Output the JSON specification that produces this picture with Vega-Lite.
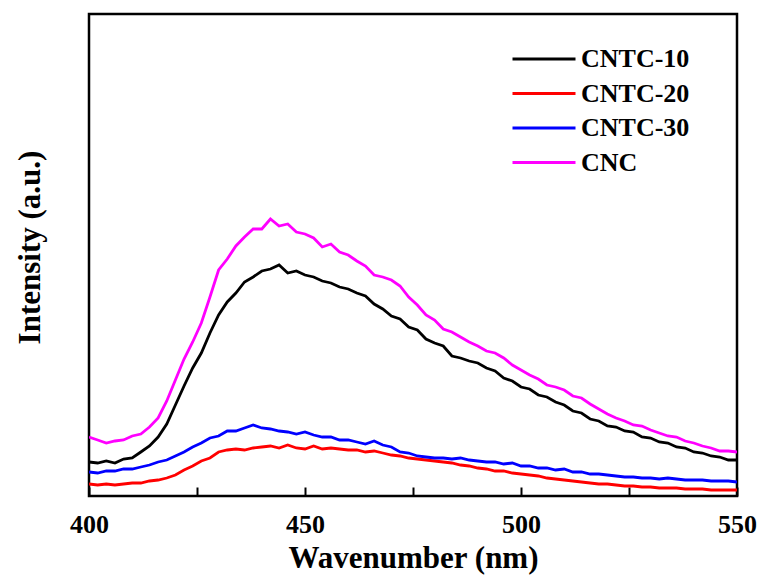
{
  "$schema": "https://vega.github.io/schema/vega-lite/v6.json",
  "width": 648,
  "height": 482,
  "autosize": {"type": "none"},
  "padding": {"left": 89, "top": 14, "right": 21, "bottom": 87},
  "background": "white",
  "config": {
    "view": {"stroke": "black", "strokeWidth": 2.5},
    "font": "Liberation Serif"
  },
  "datasets": {
    "spectra": [
      {"s":"CNTC-10","x":400,"y":34},{"s":"CNTC-10","x":402,"y":33},{"s":"CNTC-10","x":404,"y":35},{"s":"CNTC-10","x":406,"y":33},{"s":"CNTC-10","x":408,"y":37},{"s":"CNTC-10","x":410,"y":38},{"s":"CNTC-10","x":412,"y":44},{"s":"CNTC-10","x":414,"y":50},{"s":"CNTC-10","x":416,"y":59},{"s":"CNTC-10","x":418,"y":72},{"s":"CNTC-10","x":420,"y":91},{"s":"CNTC-10","x":422,"y":110},{"s":"CNTC-10","x":424,"y":128},{"s":"CNTC-10","x":426,"y":143},{"s":"CNTC-10","x":428,"y":163},{"s":"CNTC-10","x":430,"y":181},{"s":"CNTC-10","x":432,"y":194},{"s":"CNTC-10","x":434,"y":203},{"s":"CNTC-10","x":436,"y":214},{"s":"CNTC-10","x":438,"y":219},{"s":"CNTC-10","x":440,"y":225},{"s":"CNTC-10","x":442,"y":227},{"s":"CNTC-10","x":444,"y":231},{"s":"CNTC-10","x":446,"y":223},{"s":"CNTC-10","x":448,"y":225},{"s":"CNTC-10","x":450,"y":221},{"s":"CNTC-10","x":452,"y":219},{"s":"CNTC-10","x":454,"y":215},{"s":"CNTC-10","x":456,"y":213},{"s":"CNTC-10","x":458,"y":209},{"s":"CNTC-10","x":460,"y":207},{"s":"CNTC-10","x":462,"y":203},{"s":"CNTC-10","x":464,"y":200},{"s":"CNTC-10","x":466,"y":192},{"s":"CNTC-10","x":468,"y":187},{"s":"CNTC-10","x":470,"y":180},{"s":"CNTC-10","x":472,"y":177},{"s":"CNTC-10","x":474,"y":169},{"s":"CNTC-10","x":476,"y":166},{"s":"CNTC-10","x":478,"y":157},{"s":"CNTC-10","x":480,"y":153},{"s":"CNTC-10","x":482,"y":150},{"s":"CNTC-10","x":484,"y":140},{"s":"CNTC-10","x":486,"y":138},{"s":"CNTC-10","x":488,"y":135},{"s":"CNTC-10","x":490,"y":133},{"s":"CNTC-10","x":492,"y":128},{"s":"CNTC-10","x":494,"y":125},{"s":"CNTC-10","x":496,"y":118},{"s":"CNTC-10","x":498,"y":115},{"s":"CNTC-10","x":500,"y":109},{"s":"CNTC-10","x":502,"y":107},{"s":"CNTC-10","x":504,"y":101},{"s":"CNTC-10","x":506,"y":99},{"s":"CNTC-10","x":508,"y":94},{"s":"CNTC-10","x":510,"y":91},{"s":"CNTC-10","x":512,"y":85},{"s":"CNTC-10","x":514,"y":83},{"s":"CNTC-10","x":516,"y":77},{"s":"CNTC-10","x":518,"y":75},{"s":"CNTC-10","x":520,"y":70},{"s":"CNTC-10","x":522,"y":69},{"s":"CNTC-10","x":524,"y":65},{"s":"CNTC-10","x":526,"y":64},{"s":"CNTC-10","x":528,"y":59},{"s":"CNTC-10","x":530,"y":58},{"s":"CNTC-10","x":532,"y":54},{"s":"CNTC-10","x":534,"y":53},{"s":"CNTC-10","x":536,"y":49},{"s":"CNTC-10","x":538,"y":48},{"s":"CNTC-10","x":540,"y":44},{"s":"CNTC-10","x":542,"y":43},{"s":"CNTC-10","x":544,"y":40},{"s":"CNTC-10","x":546,"y":39},{"s":"CNTC-10","x":548,"y":36},{"s":"CNTC-10","x":550,"y":36},
      {"s":"CNTC-20","x":400,"y":12},{"s":"CNTC-20","x":402,"y":11},{"s":"CNTC-20","x":404,"y":12},{"s":"CNTC-20","x":406,"y":11},{"s":"CNTC-20","x":408,"y":12},{"s":"CNTC-20","x":410,"y":13},{"s":"CNTC-20","x":412,"y":13},{"s":"CNTC-20","x":414,"y":15},{"s":"CNTC-20","x":416,"y":16},{"s":"CNTC-20","x":418,"y":18},{"s":"CNTC-20","x":420,"y":21},{"s":"CNTC-20","x":422,"y":26},{"s":"CNTC-20","x":424,"y":30},{"s":"CNTC-20","x":426,"y":35},{"s":"CNTC-20","x":428,"y":38},{"s":"CNTC-20","x":430,"y":44},{"s":"CNTC-20","x":432,"y":46},{"s":"CNTC-20","x":434,"y":47},{"s":"CNTC-20","x":436,"y":46},{"s":"CNTC-20","x":438,"y":48},{"s":"CNTC-20","x":440,"y":49},{"s":"CNTC-20","x":442,"y":50},{"s":"CNTC-20","x":444,"y":48},{"s":"CNTC-20","x":446,"y":51},{"s":"CNTC-20","x":448,"y":48},{"s":"CNTC-20","x":450,"y":47},{"s":"CNTC-20","x":452,"y":50},{"s":"CNTC-20","x":454,"y":47},{"s":"CNTC-20","x":456,"y":48},{"s":"CNTC-20","x":458,"y":47},{"s":"CNTC-20","x":460,"y":46},{"s":"CNTC-20","x":462,"y":46},{"s":"CNTC-20","x":464,"y":44},{"s":"CNTC-20","x":466,"y":45},{"s":"CNTC-20","x":468,"y":43},{"s":"CNTC-20","x":470,"y":41},{"s":"CNTC-20","x":472,"y":40},{"s":"CNTC-20","x":474,"y":38},{"s":"CNTC-20","x":476,"y":37},{"s":"CNTC-20","x":478,"y":36},{"s":"CNTC-20","x":480,"y":35},{"s":"CNTC-20","x":482,"y":34},{"s":"CNTC-20","x":484,"y":33},{"s":"CNTC-20","x":486,"y":31},{"s":"CNTC-20","x":488,"y":30},{"s":"CNTC-20","x":490,"y":28},{"s":"CNTC-20","x":492,"y":27},{"s":"CNTC-20","x":494,"y":25},{"s":"CNTC-20","x":496,"y":25},{"s":"CNTC-20","x":498,"y":23},{"s":"CNTC-20","x":500,"y":22},{"s":"CNTC-20","x":502,"y":21},{"s":"CNTC-20","x":504,"y":20},{"s":"CNTC-20","x":506,"y":18},{"s":"CNTC-20","x":508,"y":17},{"s":"CNTC-20","x":510,"y":16},{"s":"CNTC-20","x":512,"y":15},{"s":"CNTC-20","x":514,"y":14},{"s":"CNTC-20","x":516,"y":13},{"s":"CNTC-20","x":518,"y":12},{"s":"CNTC-20","x":520,"y":12},{"s":"CNTC-20","x":522,"y":11},{"s":"CNTC-20","x":524,"y":10},{"s":"CNTC-20","x":526,"y":10},{"s":"CNTC-20","x":528,"y":9},{"s":"CNTC-20","x":530,"y":9},{"s":"CNTC-20","x":532,"y":8},{"s":"CNTC-20","x":534,"y":8},{"s":"CNTC-20","x":536,"y":8},{"s":"CNTC-20","x":538,"y":7},{"s":"CNTC-20","x":540,"y":7},{"s":"CNTC-20","x":542,"y":7},{"s":"CNTC-20","x":544,"y":6},{"s":"CNTC-20","x":546,"y":6},{"s":"CNTC-20","x":548,"y":6},{"s":"CNTC-20","x":550,"y":6},
      {"s":"CNTC-30","x":400,"y":24},{"s":"CNTC-30","x":402,"y":23},{"s":"CNTC-30","x":404,"y":25},{"s":"CNTC-30","x":406,"y":25},{"s":"CNTC-30","x":408,"y":27},{"s":"CNTC-30","x":410,"y":27},{"s":"CNTC-30","x":412,"y":29},{"s":"CNTC-30","x":414,"y":31},{"s":"CNTC-30","x":416,"y":34},{"s":"CNTC-30","x":418,"y":36},{"s":"CNTC-30","x":420,"y":40},{"s":"CNTC-30","x":422,"y":44},{"s":"CNTC-30","x":424,"y":49},{"s":"CNTC-30","x":426,"y":53},{"s":"CNTC-30","x":428,"y":58},{"s":"CNTC-30","x":430,"y":60},{"s":"CNTC-30","x":432,"y":65},{"s":"CNTC-30","x":434,"y":65},{"s":"CNTC-30","x":436,"y":68},{"s":"CNTC-30","x":438,"y":71},{"s":"CNTC-30","x":440,"y":68},{"s":"CNTC-30","x":442,"y":67},{"s":"CNTC-30","x":444,"y":65},{"s":"CNTC-30","x":446,"y":64},{"s":"CNTC-30","x":448,"y":62},{"s":"CNTC-30","x":450,"y":64},{"s":"CNTC-30","x":452,"y":61},{"s":"CNTC-30","x":454,"y":59},{"s":"CNTC-30","x":456,"y":59},{"s":"CNTC-30","x":458,"y":56},{"s":"CNTC-30","x":460,"y":56},{"s":"CNTC-30","x":462,"y":54},{"s":"CNTC-30","x":464,"y":52},{"s":"CNTC-30","x":466,"y":55},{"s":"CNTC-30","x":468,"y":51},{"s":"CNTC-30","x":470,"y":49},{"s":"CNTC-30","x":472,"y":44},{"s":"CNTC-30","x":474,"y":43},{"s":"CNTC-30","x":476,"y":40},{"s":"CNTC-30","x":478,"y":39},{"s":"CNTC-30","x":480,"y":38},{"s":"CNTC-30","x":482,"y":38},{"s":"CNTC-30","x":484,"y":37},{"s":"CNTC-30","x":486,"y":38},{"s":"CNTC-30","x":488,"y":36},{"s":"CNTC-30","x":490,"y":35},{"s":"CNTC-30","x":492,"y":34},{"s":"CNTC-30","x":494,"y":34},{"s":"CNTC-30","x":496,"y":32},{"s":"CNTC-30","x":498,"y":33},{"s":"CNTC-30","x":500,"y":30},{"s":"CNTC-30","x":502,"y":30},{"s":"CNTC-30","x":504,"y":28},{"s":"CNTC-30","x":506,"y":28},{"s":"CNTC-30","x":508,"y":26},{"s":"CNTC-30","x":510,"y":27},{"s":"CNTC-30","x":512,"y":24},{"s":"CNTC-30","x":514,"y":24},{"s":"CNTC-30","x":516,"y":22},{"s":"CNTC-30","x":518,"y":22},{"s":"CNTC-30","x":520,"y":21},{"s":"CNTC-30","x":522,"y":20},{"s":"CNTC-30","x":524,"y":19},{"s":"CNTC-30","x":526,"y":19},{"s":"CNTC-30","x":528,"y":18},{"s":"CNTC-30","x":530,"y":18},{"s":"CNTC-30","x":532,"y":17},{"s":"CNTC-30","x":534,"y":18},{"s":"CNTC-30","x":536,"y":17},{"s":"CNTC-30","x":538,"y":16},{"s":"CNTC-30","x":540,"y":16},{"s":"CNTC-30","x":542,"y":16},{"s":"CNTC-30","x":544,"y":15},{"s":"CNTC-30","x":546,"y":15},{"s":"CNTC-30","x":548,"y":15},{"s":"CNTC-30","x":550,"y":14},
      {"s":"CNC","x":400,"y":59},{"s":"CNC","x":402,"y":56},{"s":"CNC","x":404,"y":53},{"s":"CNC","x":406,"y":55},{"s":"CNC","x":408,"y":56},{"s":"CNC","x":410,"y":60},{"s":"CNC","x":412,"y":62},{"s":"CNC","x":414,"y":69},{"s":"CNC","x":416,"y":78},{"s":"CNC","x":418,"y":95},{"s":"CNC","x":420,"y":116},{"s":"CNC","x":422,"y":137},{"s":"CNC","x":424,"y":154},{"s":"CNC","x":426,"y":173},{"s":"CNC","x":428,"y":199},{"s":"CNC","x":430,"y":226},{"s":"CNC","x":432,"y":237},{"s":"CNC","x":434,"y":250},{"s":"CNC","x":436,"y":259},{"s":"CNC","x":438,"y":267},{"s":"CNC","x":440,"y":267},{"s":"CNC","x":442,"y":277},{"s":"CNC","x":444,"y":270},{"s":"CNC","x":446,"y":272},{"s":"CNC","x":448,"y":264},{"s":"CNC","x":450,"y":262},{"s":"CNC","x":452,"y":258},{"s":"CNC","x":454,"y":249},{"s":"CNC","x":456,"y":252},{"s":"CNC","x":458,"y":244},{"s":"CNC","x":460,"y":241},{"s":"CNC","x":462,"y":235},{"s":"CNC","x":464,"y":230},{"s":"CNC","x":466,"y":221},{"s":"CNC","x":468,"y":219},{"s":"CNC","x":470,"y":216},{"s":"CNC","x":472,"y":210},{"s":"CNC","x":474,"y":199},{"s":"CNC","x":476,"y":191},{"s":"CNC","x":478,"y":181},{"s":"CNC","x":480,"y":176},{"s":"CNC","x":482,"y":167},{"s":"CNC","x":484,"y":164},{"s":"CNC","x":486,"y":159},{"s":"CNC","x":488,"y":154},{"s":"CNC","x":490,"y":150},{"s":"CNC","x":492,"y":145},{"s":"CNC","x":494,"y":143},{"s":"CNC","x":496,"y":138},{"s":"CNC","x":498,"y":131},{"s":"CNC","x":500,"y":126},{"s":"CNC","x":502,"y":121},{"s":"CNC","x":504,"y":117},{"s":"CNC","x":506,"y":111},{"s":"CNC","x":508,"y":109},{"s":"CNC","x":510,"y":106},{"s":"CNC","x":512,"y":100},{"s":"CNC","x":514,"y":98},{"s":"CNC","x":516,"y":92},{"s":"CNC","x":518,"y":87},{"s":"CNC","x":520,"y":82},{"s":"CNC","x":522,"y":78},{"s":"CNC","x":524,"y":75},{"s":"CNC","x":526,"y":71},{"s":"CNC","x":528,"y":70},{"s":"CNC","x":530,"y":66},{"s":"CNC","x":532,"y":63},{"s":"CNC","x":534,"y":60},{"s":"CNC","x":536,"y":59},{"s":"CNC","x":538,"y":55},{"s":"CNC","x":540,"y":53},{"s":"CNC","x":542,"y":50},{"s":"CNC","x":544,"y":48},{"s":"CNC","x":546,"y":45},{"s":"CNC","x":548,"y":45},{"s":"CNC","x":550,"y":44}
    ]
  },
  "data": {"name": "spectra"},
  "mark": {"type": "line", "strokeWidth": 2.8, "clip": true},
  "encoding": {
    "x": {
      "field": "x",
      "type": "quantitative",
      "scale": {"domain": [400, 550], "nice": false, "zero": false},
      "axis": {
        "title": "Wavenumber (nm)",
        "values": [400, 425, 450, 475, 500, 525, 550],
        "labelExpr": "datum.value % 50 === 0 ? datum.label : ''",
        "grid": false,
        "domain": false,
        "tickColor": "black",
        "tickWidth": 2,
        "tickSize": -9,
        "encode": {
          "ticks": {"update": {"y2": {"signal": "datum.value % 50 === 0 ? -9 : -6"}}}
        },
        "labelFont": "Liberation Serif",
        "labelFontWeight": "bold",
        "labelFontSize": 26,
        "labelColor": "black",
        "labelBaseline": "alphabetic",
        "labelPadding": 45,
        "labelFlush": false,
        "labelOverlap": false,
        "titleFont": "Liberation Serif",
        "titleFontWeight": "bold",
        "titleFontSize": 31,
        "titleColor": "black",
        "titleBaseline": "alphabetic",
        "titleY": 71
      }
    },
    "y": {
      "field": "y",
      "type": "quantitative",
      "scale": {"domain": [0, 482], "nice": false},
      "axis": {
        "title": "Intensity (a.u.)",
        "labels": false,
        "ticks": false,
        "domain": false,
        "grid": false,
        "titleFont": "Liberation Serif",
        "titleFontWeight": "bold",
        "titleFontSize": 31,
        "titleColor": "black",
        "titleBaseline": "alphabetic",
        "titleX": -50,
        "titleY": 233
      }
    },
    "color": {
      "field": "s",
      "type": "nominal",
      "scale": {
        "domain": ["CNTC-10", "CNTC-20", "CNTC-30", "CNC"],
        "range": ["#000000", "#ff0000", "#0000ff", "#ff00ff"]
      },
      "legend": {
        "title": null,
        "orient": "none",
        "legendX": 442,
        "legendY": 32,
        "symbolType": "M-3,0H3",
        "symbolSize": 441,
        "symbolStrokeWidth": 3,
        "labelFont": "Liberation Serif",
        "labelFontWeight": "bold",
        "labelFontSize": 26,
        "labelColor": "black",
        "labelOffset": 24,
        "rowPadding": 8.5,
        "padding": 0
      }
    }
  }
}
